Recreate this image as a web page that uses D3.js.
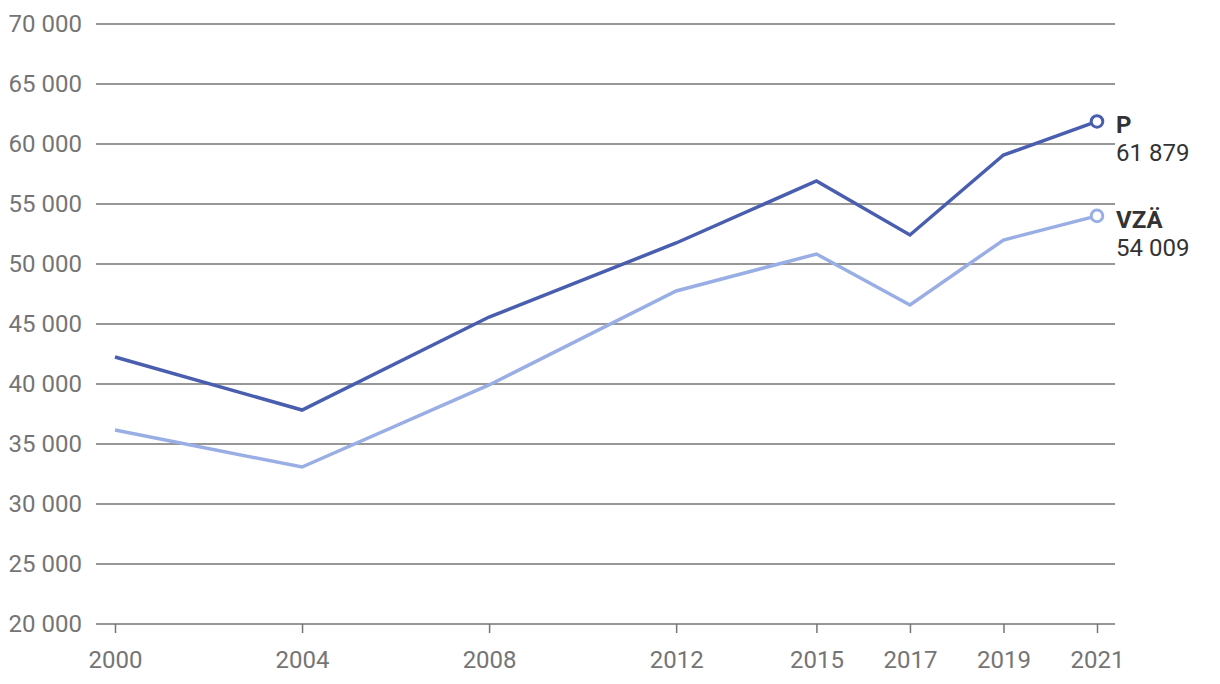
<!DOCTYPE html>
<html>
<head>
<meta charset="utf-8">
<script src="https://cdn.jsdelivr.net/npm/d3@7"></script>
<style>
  html, body { margin: 0; padding: 0; background: #fff; }
  svg { display: block; font-family: Roboto, "Noto Sans", sans-serif; }
</style>
</head>
<body>
<svg id="chart" width="1220" height="684"></svg>
<script>
const years = [2000, 2004, 2008, 2012, 2015, 2017, 2019, 2021];
const seriesNames = ["P", "VZÄ"];
const valuesP   = [42250, 37830, 45580, 51750, 56920, 52420, 59080, 61879];
const valuesVZA = [36170, 33080, 39920, 47750, 50830, 46580, 52000, 54009];
const yTicks = [20000, 25000, 30000, 35000, 40000, 45000, 50000, 55000, 60000, 65000, 70000];
const colors = ["#4a5eb0", "#9aaee6"];

const series = [
  { name: seriesNames[0], values: valuesP, color: colors[0] },
  { name: seriesNames[1], values: valuesVZA, color: colors[1] }
];

const svg = d3.select("#chart");

const x = d3.scaleLinear().domain([2000, 2021]).range([115, 1097]);
const y = d3.scaleLinear().domain([20000, 70000]).range([624, 24]);

const fmt = v => d3.format(",")(v).replace(/,/g, " ");

// Gridlines + y labels
const yAxis = d3.axisLeft(y).tickValues(yTicks).tickSize(0).tickPadding(14).tickFormat(fmt);
const gy = svg.append("g").attr("transform", `translate(96,0)`).call(yAxis);
gy.select(".domain").remove();
gy.selectAll(".tick text").attr("fill", "#757575").style("font-size", "24px").style("font-family", "Roboto");
svg.append("g").selectAll("line").data(yTicks).join("line")
  .attr("x1", 96).attr("x2", 1115)
  .attr("y1", d => y(d)).attr("y2", d => y(d))
  .attr("stroke", "#757575").attr("stroke-width", 1.5);

// x axis
const xAxis = d3.axisBottom(x).tickValues(years).tickFormat(d3.format("d")).tickSize(9).tickSizeOuter(0).tickPadding(18);
const gx = svg.append("g").attr("transform", `translate(0,624)`).call(xAxis);
gx.select(".domain").remove();
gx.selectAll(".tick line").attr("stroke", "#757575").attr("stroke-width", 1.5);
gx.selectAll(".tick text").attr("fill", "#757575").style("font-size", "24px").style("font-family", "Roboto");

// lines
const line = d3.line().x((d, i) => x(years[i])).y(d => y(d));
series.forEach(s => {
  svg.append("path").datum(s.values)
    .attr("d", line).attr("fill", "none")
    .attr("stroke", s.color).attr("stroke-width", 3.5)
    .attr("stroke-linejoin", "miter");
});

// end markers & labels
series.forEach(s => {
  const last = s.values[s.values.length - 1];
  const cx = x(years[years.length - 1]), cy = y(last);
  svg.append("circle").attr("cx", cx).attr("cy", cy).attr("r", 5.8)
    .attr("fill", "#fff").attr("stroke", s.color).attr("stroke-width", 3);
  const t = svg.append("text").attr("x", 1116).attr("y", cy + 12)
    .attr("fill", "#333").style("font-size", "24px");
  t.append("tspan").attr("x", 1116).attr("font-weight", "bold").text(s.name);
  t.append("tspan").attr("x", 1116).attr("dy", 28).text(fmt(last));
});
</script>
</body>
</html>
